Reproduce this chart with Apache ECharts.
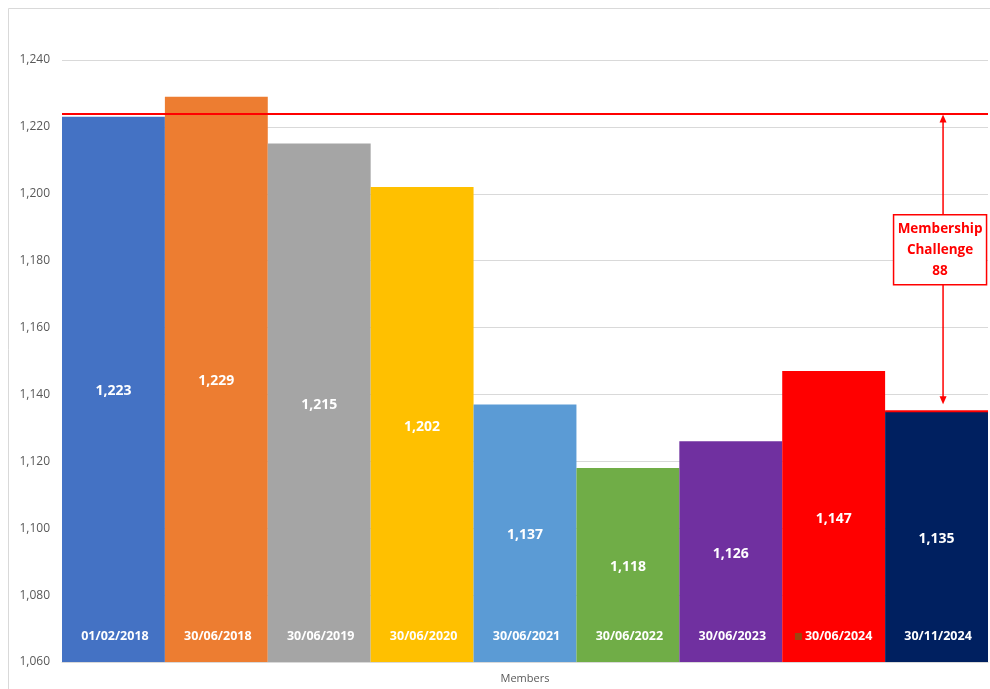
<!DOCTYPE html>
<html>
<head>
<meta charset="utf-8">
<script src="https://cdn.jsdelivr.net/npm/echarts@6/dist/echarts.min.js"></script>
<style>html,body{margin:0;padding:0;background:#fff;overflow:hidden;}#c{width:990px;height:689px;}</style>
</head>
<body>
<div id="c"></div>
<script>
const categories = ['01/02/2018','30/06/2018','30/06/2019','30/06/2020','30/06/2021','30/06/2022','30/06/2023','30/06/2024','30/11/2024'];
const values = [1223, 1229, 1215, 1202, 1137, 1118, 1126, 1147, 1135];
const barColors = ['#4472C4','#ED7D31','#A5A5A5','#FFC000','#5B9BD5','#70AD47','#7030A0','#FF0000','#002060'];
const targetValue = 1224;
const currentValue = 1135;
const challengeLines = ['Membership', 'Challenge', '88'];
const axisName = 'Members';
const yMin = 1060, yMax = 1240, yStep = 20;

const FONT = '"Open Sans", "Liberation Sans", sans-serif';
const chart = echarts.init(document.getElementById('c'), null, {renderer: 'canvas'});

chart.setOption({
  animation: false,
  backgroundColor: '#fff',
  grid: {left: 62, width: 926, top: 60, height: 602, containLabel: false},
  xAxis: {
    type: 'category',
    data: categories,
    z: 10,
    name: axisName,
    nameLocation: 'middle',
    nameGap: 11,
    nameTextStyle: {color: '#595959', fontSize: 11, fontFamily: FONT, verticalAlign: 'top'},
    axisLine: {show: true, lineStyle: {color: '#D9D9D9'}},
    axisTick: {show: false},
    axisLabel: {
      interval: 0,
      inside: true, margin: 19, color: '#fff', fontWeight: 'bold', fontSize: 12.5, fontFamily: FONT,
      formatter: function (v) { return v === '30/06/2024' ? '{sq|}{t|' + v + '}' : '{t|' + v + '}'; },
      rich: {
        sq: {width: 7, height: 7, backgroundColor: '#9C4510'},
        t: {color: '#fff', fontWeight: 'bold', fontSize: 12.5, fontFamily: FONT, padding: [0, 0, 0, 3]}
      }
    }
  },
  yAxis: {
    type: 'value',
    min: yMin, max: yMax, interval: yStep,
    axisLine: {show: false},
    axisTick: {show: false},
    splitLine: {lineStyle: {color: '#D9D9D9'}},
    axisLabel: {
      color: '#595959', fontSize: 12, fontFamily: FONT, margin: 12,
      formatter: function (v) { return v.toLocaleString('en-US'); }
    }
  },
  series: [{
    type: 'bar',
    barCategoryGap: 0,
    data: values.map(function (v, i) { return {value: v, itemStyle: {color: barColors[i]}}; }),
    label: {
      show: true, position: 'inside', offset: [0, 2], color: '#fff', fontWeight: 'bold', fontSize: 14, fontFamily: FONT,
      formatter: function (p) { return p.value.toLocaleString('en-US'); }
    },
    markLine: {
      silent: true,
      symbol: ['none', 'none'],
      label: {show: false},
      lineStyle: {color: '#FF0000', width: 2, type: 'solid'},
      data: [{yAxis: targetValue}]
    }
  }]
});

// annotations positioned through the chart's scales
const last = categories.length - 1;
const c0 = chart.convertToPixel({xAxisIndex: 0}, categories[0]);
const c1 = chart.convertToPixel({xAxisIndex: 0}, categories[1]);
const band = c1 - c0;
const cl = chart.convertToPixel({xAxisIndex: 0}, categories[last]);
const lastLeft = cl - band / 2, lastRight = cl + band / 2;
const yTarget = chart.convertToPixel({yAxisIndex: 0}, targetValue);
const yCur = chart.convertToPixel({yAxisIndex: 0}, currentValue);
const ax = cl + 6.5;
const boxMid = chart.convertToPixel({yAxisIndex: 0}, (targetValue + currentValue) / 2 + 3.8);
const boxW = 93, boxH = 70;
const boxTop = boxMid - boxH / 2, boxBot = boxMid + boxH / 2;
const boxCx = ax - 3;
const red = '#FF0000';

chart.setOption({
  graphic: [
    {type: 'rect', shape: {x: 8.5, y: 8.5, width: 1000, height: 700}, style: {fill: 'none', stroke: '#D9D9D9', lineWidth: 1}, z: 0, silent: true},
    {type: 'line', shape: {x1: lastLeft, y1: yCur, x2: lastRight, y2: yCur}, style: {stroke: red, lineWidth: 2}, z: 100},
    {type: 'line', shape: {x1: ax, y1: yTarget + 6, x2: ax, y2: boxTop}, style: {stroke: red, lineWidth: 1.5}, z: 100},
    {type: 'line', shape: {x1: ax, y1: boxBot, x2: ax, y2: yCur - 14}, style: {stroke: red, lineWidth: 1.5}, z: 100},
    {type: 'polygon', shape: {points: [[ax, yTarget + 1], [ax - 3.5, yTarget + 9], [ax + 3.5, yTarget + 9]]}, style: {fill: red}, z: 100},
    {type: 'polygon', shape: {points: [[ax, yCur - 7], [ax - 3.5, yCur - 15], [ax + 3.5, yCur - 15]]}, style: {fill: red}, z: 100},
    {type: 'rect', shape: {x: boxCx - boxW / 2, y: boxTop, width: boxW, height: boxH}, style: {fill: '#fff', stroke: red, lineWidth: 1.5}, z: 100},
    {type: 'text', x: boxCx, y: boxMid + 1, style: {text: challengeLines.join('\n'), fill: red, font: 'bold 13.5px ' + FONT, align: 'center', verticalAlign: 'middle', lineHeight: 21}, z: 101}
  ]
});
</script>
</body>
</html>
